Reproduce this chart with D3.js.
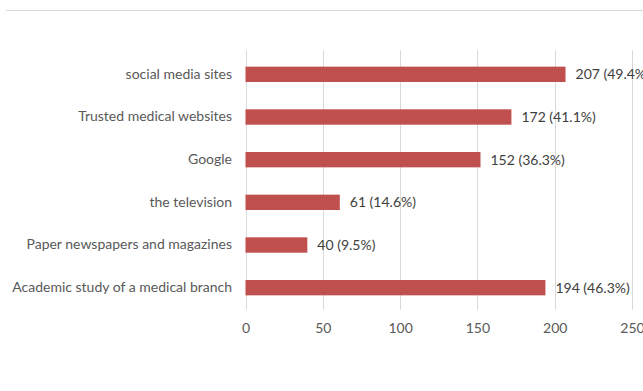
<!DOCTYPE html>
<html><head><meta charset="utf-8">
<script src="https://cdn.jsdelivr.net/npm/d3@7"></script>
<style>
html,body{margin:0;padding:0;background:#fff;}
svg{display:block;}
text{font-family:Lato,"Open Sans",sans-serif;}
</style></head>
<body>
<script>
const categories = ["social media sites","Trusted medical websites","Google","the television","Paper newspapers and magazines","Academic study of a medical branch"];
const values = [207,172,152,61,40,194];
const percents = ["49.4%","41.1%","36.3%","14.6%","9.5%","46.3%"];
const xTicks = [0,50,100,150,200,250];

const W=643,H=391;
const svg=d3.select("body").append("svg").attr("width",W).attr("height",H);

// top separator line
svg.append("line").attr("x1",6).attr("x2",W).attr("y1",10.5).attr("y2",10.5)
  .attr("stroke","#d9d9d9").attr("stroke-width",1);

const x=d3.scaleLinear().domain([0,250]).range([245.5,632]);
const y=d3.scaleBand().domain(categories).range([53,309]).paddingInner(0.64).paddingOuter(0.32);

// gridlines
svg.append("g").selectAll("line").data(xTicks).join("line")
  .attr("x1",d=>Math.round(x(d))+0.5).attr("x2",d=>Math.round(x(d))+0.5)
  .attr("y1",50).attr("y2",310)
  .attr("stroke","#d9d9d9").attr("stroke-width",1);

// x axis labels
const xAxis=d3.axisBottom(x).tickValues(xTicks).tickSize(0).tickPadding(0);
const gx=svg.append("g").attr("transform","translate(0,323)").call(xAxis);
gx.select(".domain").remove();
gx.selectAll("text").attr("fill","#595959").style("font-size","14px").attr("font-family","Lato,sans-serif");

// y axis labels
const yAxis=d3.axisLeft(y).tickSize(0).tickPadding(0);
const gy=svg.append("g").attr("transform","translate(232,0)").call(yAxis);
gy.select(".domain").remove();
gy.selectAll("text").attr("fill","#595959").style("font-size","14px").attr("font-family","Lato,sans-serif");

// bars
svg.append("g").selectAll("rect").data(values).join("rect")
  .attr("x",x(0)).attr("y",(d,i)=>y(categories[i]))
  .attr("width",d=>x(d)-x(0)).attr("height",y.bandwidth())
  .attr("fill","#c0504d");

// value labels
svg.append("g").selectAll("text").data(values).join("text")
  .attr("x",d=>x(d)+10).attr("y",(d,i)=>y(categories[i])+y.bandwidth()/2)
  .attr("dy","0.35em").attr("fill","#404040").style("font-size","14px")
  .text((d,i)=>d+" ("+percents[i]+")");
</script>
</body></html>
